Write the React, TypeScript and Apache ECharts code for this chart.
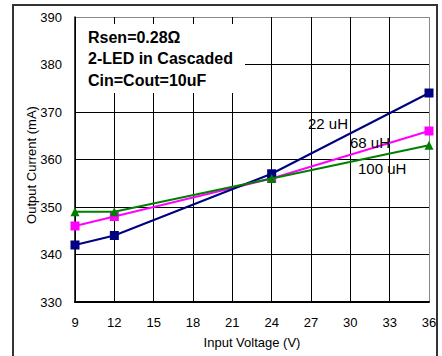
import React, { useEffect, useRef } from "react";
import * as echarts from "echarts";

const voltages = [9, 12, 24, 36];
const current22uH = [342, 344, 357, 374];
const current68uH = [346, 348, 356, 366];
const current100uH = [349, 349, 356, 363];
const seriesNames = ["22 uH", "68 uH", "100 uH"];
const noteLines = ["Rsen=0.28Ω", "2-LED in Cascaded", "Cin=Cout=10uF"];

const FONT = "Liberation Sans, Arial, sans-serif";

export default function App() {
  const ref = useRef<HTMLDivElement>(null);
  useEffect(() => {
    document.body.style.margin = "0";
    if (!ref.current) return;
    const chart = echarts.init(ref.current, null, { renderer: "svg" });
    const pair = (vals: number[]) => voltages.map((v, i) => [v, vals[i]]);
    const gridColorsY = ["#000", "#000", "#000", "#000", "#000", "#000", "#888"];
    const gridColorsX = ["#000", "#000", "#000", "#000", "#000", "#000", "#000", "#000", "#000", "#888"];
    chart.setOption({
      animation: false,
      backgroundColor: "#fff",
      textStyle: { fontFamily: FONT },
      grid: { left: 75, right: 13, top: 17, bottom: 54, containLabel: false },
      xAxis: {
        type: "value",
        min: 9,
        max: 36,
        interval: 3,
        name: "Input Voltage (V)",
        nameLocation: "middle",
        nameGap: 34,
        nameTextStyle: { fontSize: 13, color: "#000", fontFamily: FONT },
        axisLine: { onZero: false, lineStyle: { color: "#000", width: 2 } },
        axisTick: { show: false },
        axisLabel: { fontSize: 13, color: "#000", margin: 14, fontFamily: FONT },
        splitLine: { show: true, lineStyle: { color: gridColorsX, width: 1 } },
      },
      yAxis: {
        type: "value",
        min: 330,
        max: 390,
        interval: 10,
        axisLine: { show: true, lineStyle: { color: "#000", width: 1.5 } },
        axisTick: { show: false },
        axisLabel: { fontSize: 13, color: "#000", margin: 13, fontFamily: FONT },
        splitLine: { show: true, lineStyle: { color: gridColorsY, width: 1 } },
      },
      series: [
        {
          name: seriesNames[0],
          type: "line",
          data: pair(current22uH),
          symbol: "rect",
          symbolSize: 9,
          lineStyle: { color: "#000080", width: 2 },
          itemStyle: { color: "#000080" },
          z: 5,
        },
        {
          name: seriesNames[1],
          type: "line",
          data: pair(current68uH),
          symbol: "rect",
          symbolSize: 9,
          lineStyle: { color: "#FF00FF", width: 2 },
          itemStyle: { color: "#FF00FF" },
          z: 4,
        },
        {
          name: seriesNames[2],
          type: "line",
          data: pair(current100uH),
          symbol: "triangle",
          symbolSize: 9,
          lineStyle: { color: "#008000", width: 2 },
          itemStyle: { color: "#008000" },
          z: 6,
        },
      ],
      graphic: [
        {
          type: "rect",
          z: 100,
          shape: { x: 13, y: 5, width: 424, height: 400 },
          style: { fill: "none", stroke: "#333", lineWidth: 2 },
        },
        {
          type: "rect",
          z: 100,
          shape: { x: 76, y: 24, width: 169, height: 69 },
          style: { fill: "#fff" },
        },
        ...noteLines.map((t, i) => ({
          type: "text",
          z: 101,
          x: 88,
          y: 37 + i * 21.5,
          style: {
            text: t,
            font: `bold 16px ${FONT}`,
            fill: "#000",
            verticalAlign: "middle",
          },
        })),
        {
          type: "text",
          z: 101,
          x: 308,
          y: 123,
          style: { text: seriesNames[0], font: `15px ${FONT}`, fill: "#000", verticalAlign: "middle" },
        },
        {
          type: "text",
          z: 101,
          x: 350,
          y: 142,
          style: { text: seriesNames[1], font: `15px ${FONT}`, fill: "#000", verticalAlign: "middle" },
        },
        {
          type: "text",
          z: 101,
          x: 358,
          y: 168,
          style: { text: seriesNames[2], font: `15px ${FONT}`, fill: "#000", verticalAlign: "middle" },
        },
        {
          type: "text",
          z: 101,
          x: 31,
          y: 165,
          rotation: Math.PI / 2,
          style: {
            text: "Output Current (mA)",
            font: `13px ${FONT}`,
            fill: "#000",
            align: "center",
            verticalAlign: "middle",
          },
        },
      ],
    });
    return () => chart.dispose();
  }, []);
  return <div ref={ref} style={{ width: 442, height: 356 }} />;
}
